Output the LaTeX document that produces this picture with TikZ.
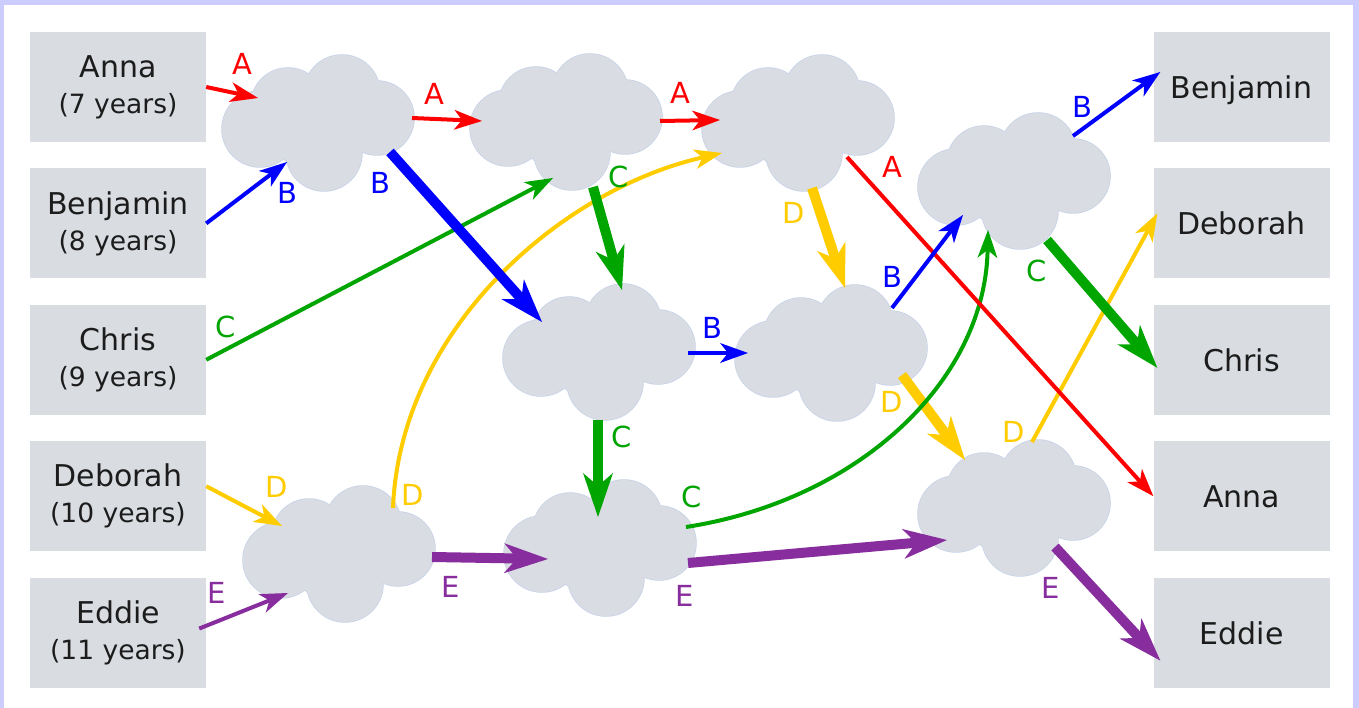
\documentclass[tikz,border=0pt]{standalone}
\usepackage{fontspec}
\setmainfont{DejaVu Sans}
\usepackage{tikz}
\usetikzlibrary{arrows.meta,positioning,calc}
\definecolor{ink}{HTML}{1C1C1C}
\definecolor{frame}{HTML}{CCCCFF}
\definecolor{boxgray}{HTML}{D9DCE1}
\definecolor{cloudfill}{HTML}{D9DCE3}
\definecolor{cloudline}{HTML}{C6D2E8}
\definecolor{acol}{HTML}{FF0000}
\definecolor{bcol}{HTML}{0000FF}
\definecolor{ccol}{HTML}{00A500}
\definecolor{dcol}{HTML}{FFCC00}
\definecolor{ecol}{HTML}{882D9E}
\newcommand\yrs{\fontsize{26.5}{36}\selectfont}
\tikzset{
  every node/.style={text=ink},
  person/.style={fill=boxgray,minimum width=176pt,minimum height=110pt,inner sep=0pt,align=center,font=\fontsize{30}{36}\selectfont},
  receiver/.style={person,text depth=0pt},
  cloudspot/.style={inner sep=0pt,minimum size=0pt},
  lab/.style={inner sep=0pt,font=\fontsize{29}{34}\selectfont},
  thinarr/.style={line width=4pt,-{Stealth[length=28pt,width=20pt,inset=8pt,line width=0pt]}},
  thickarr/.style={line width=10pt,-{Stealth[length=44pt,width=30pt,inset=13pt,line width=0pt]}}
}

\begin{document}
\begin{tikzpicture}[x=1pt,y=-1pt,node distance=26pt]
  \useasboundingbox (0,0) rectangle (1359,708);
  \fill[frame] (0,0) rectangle (1359,708);
  \fill[white] (4,5) rectangle (1353,708);

  % children on the left
  \node[person] (anna) at (118,87) {Anna\\{\yrs (7 years)}};
  \node[person,below=of anna] (benjamin) {Benjamin\\{\yrs (8 years)}};
  \node[person,below=of benjamin] (chris) {Chris\\{\yrs (9 years)}};
  \node[person,below=of chris] (deborah) {Deborah\\{\yrs (10 years)}};
  \node[person,below=of deborah] (eddie) {Eddie\\{\yrs (11 years)}};

  % order on the right
  \node[receiver] (toBenjamin) at (1241.5,87) {Benjamin};
  \node[receiver,below=of toBenjamin] (toDeborah) {Deborah};
  \node[receiver,below=of toDeborah] (toChris) {Chris};
  \node[receiver,below=of toChris] (toAnna) {Anna};
  \node[receiver,below=of toAnna] (toEddie) {Eddie};

  % clouds
  \foreach \nm/\px/\py in {k1/318/123,k2/566/122,k3/798/123,k4/1014/181,k5/599/352,k6/831/353,k7/339/554,k8/600/548,k9/1014/508}
    \node[cloudspot] (\nm) at (\px,\py) {};
  \foreach \k in {k1,k2,k3,k4,k5,k6,k7,k8,k9} {
    \foreach \cx/\cy/\r in {-58/6/38,-30/-18/37,24/-30/38,59/-5/37,6/30/38,0/2/48}
      \draw[cloudline,line width=1.5pt] ($(\k.center)+(\cx,\cy)$) circle (\r pt);
  }
  \foreach \k in {k1,k2,k3,k4,k5,k6,k7,k8,k9} {
    \foreach \cx/\cy/\r in {-58/6/38,-30/-18/37,24/-30/38,59/-5/37,6/30/38,0/2/48}
      \fill[cloudfill] ($(\k.center)+(\cx,\cy)$) circle (\r pt);
  }

  % D
  \draw[thinarr,dcol] ($(deborah.east)+(0,-10)$) -- ($(k7)+(-57,-28)$);
  \draw[thinarr,dcol] ($(k7)+(54,-46)$) .. controls (400,330) and (560,190) .. ($(k3)+(-76,30)$);
  \draw[thickarr,dcol] ($(k3)+(14,65)$) -- ($(k6)+(14,-65)$);
  \draw[thickarr,dcol] ($(k6)+(71,22)$) -- ($(k9)+(-49,-48)$);
  \draw[thinarr,dcol] ($(k9)+(18,-66)$) -- ($(toDeborah.west)+(4,-10)$);
  % C
  \draw[thinarr,ccol] (chris.east) -- ($(k2)+(-13,56)$);
  \draw[thickarr,ccol] ($(k2)+(27,65)$) -- ($(k5)+(23,-62)$);
  \draw[thickarr,ccol] ($(k5)+(-1,68)$) -- ($(k8)+(-2,-31)$);
  \draw[thinarr,ccol] ($(k8)+(86,-21)$) .. controls (860,500) and (985,380) .. ($(k4)+(-26,49)$);
  \draw[thickarr,ccol] ($(k4)+(33,59)$) -- ($(toChris.west)+(4,8)$);
  % A
  \draw[thinarr,acol] (anna.east) -- ($(k1)+(-60,-25)$);
  \draw[thinarr,acol] ($(k1)+(94,-5)$) -- ($(k2)+(-84,-1)$);
  \draw[thinarr,acol] ($(k2)+(94,-1)$) -- ($(k3)+(-78,-3)$);
  \draw[thinarr,acol] ($(k3)+(49,34)$) -- (toAnna.west);
  % B
  \draw[thinarr,bcol] (benjamin.east) -- ($(k1)+(-31,39)$);
  \draw[thickarr,bcol] ($(k1)+(72,29)$) -- ($(k5)+(-57,-30)$);
  \draw[thinarr,bcol] ($(k5)+(89,1)$) -- ($(k6)+(-83,0)$);
  \draw[thinarr,bcol] ($(k6)+(61,-45)$) -- ($(k4)+(-51,34)$);
  \draw[thinarr,bcol] ($(k4)+(59,-45)$) -- ($(toBenjamin.west)+(7,-15)$);
  % E
  \draw[thinarr,ecol] ($(eddie.east)+(-7,-4)$) -- ($(k7)+(-51,39)$);
  \draw[thickarr,ecol] ($(k7)+(93,3)$) -- ($(k8)+(-52,11)$);
  \draw[thickarr,ecol] ($(k8)+(88,15)$) -- ($(k9)+(-67,32)$);
  \draw[thickarr,ecol] ($(k9)+(41,39)$) -- ($(toEddie.west)+(7,28)$);

  % letters
  \foreach \nm/\t/\c/\px/\py in {la1/A/acol/242/64,la2/A/acol/434/94,la3/A/acol/680/93,la4/A/acol/892/167,
      lb1/B/bcol/287/193,lb2/B/bcol/380/183,lb3/B/bcol/712/328,lb4/B/bcol/892/277,lb5/B/bcol/1082/107,
      lc1/C/ccol/226/327,lc2/C/ccol/619/177,lc3/C/ccol/622/437,lc4/C/ccol/692/497,lc5/C/ccol/1037/271,
      ld1/D/dcol/277/487,ld2/D/dcol/413/495,ld3/D/dcol/794/213,ld4/D/dcol/892/402,ld5/D/dcol/1014/432,
      le1/E/ecol/217/593,le2/E/ecol/451/587,le3/E/ecol/685/596,le4/E/ecol/1051/588}
    \node[lab,text=\c] (\nm) at (\px,\py) {\t};
\end{tikzpicture}
\end{document}
